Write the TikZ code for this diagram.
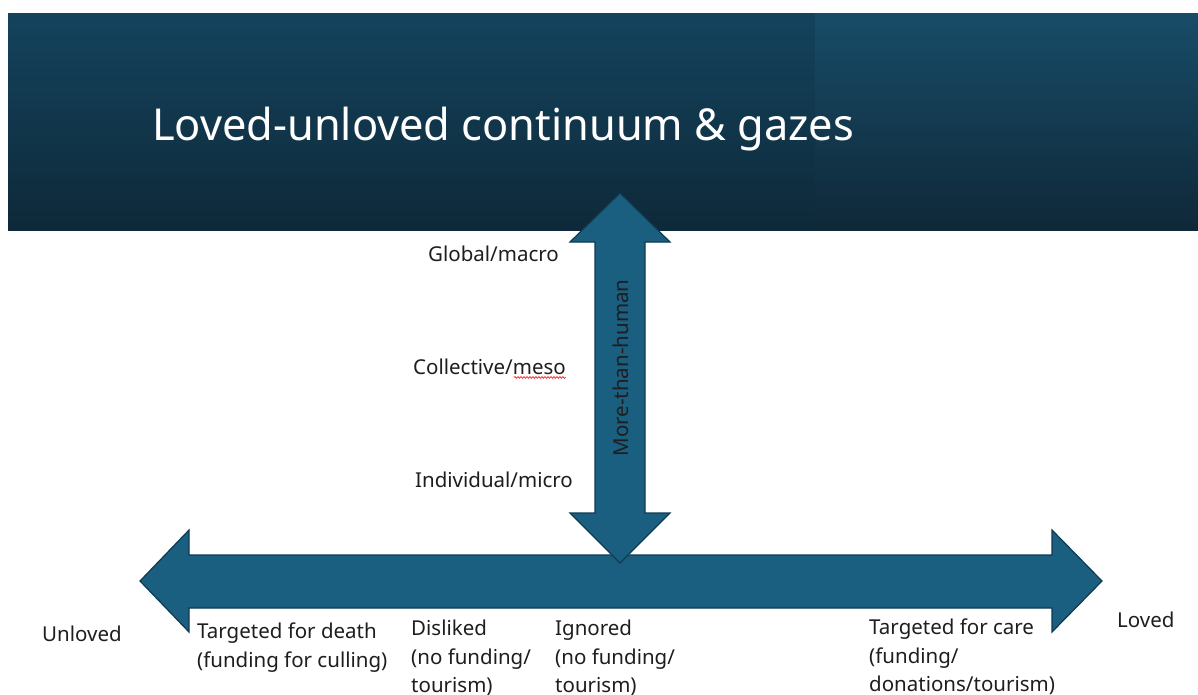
\documentclass[tikz,border=0pt]{standalone}
\usepackage{fontspec}
\usepackage{graphicx}
\setmainfont{Noto Sans}
\usetikzlibrary{decorations.pathmorphing}

\definecolor{bannerLtop}{HTML}{14435D}
\definecolor{bannerLbot}{HTML}{0E2939}
\definecolor{bannerRtop}{HTML}{184C68}
\definecolor{bannerRbot}{HTML}{0F2838}
\definecolor{arrowfill}{HTML}{1A5E80}
\definecolor{arrowline}{HTML}{0E3A52}
\definecolor{textdark}{HTML}{1E1E1E}

\tikzset{
  bigarrow/.style={fill=arrowfill, draw=arrowline, line width=1.2pt, line join=miter},
  lbl/.style={font=\fontsize{20.5}{28.5}\selectfont, text=textdark, inner sep=0pt},
  multilbl/.style={lbl, align=left, anchor=north west},
  spell/.style={draw=red, line width=0.6pt, decorate,
    decoration={snake, amplitude=0.9pt, segment length=3pt}}
}

\begin{document}
\begin{tikzpicture}[x=1pt, y=-1pt]
  \useasboundingbox (0,0) rectangle (1198,694);
  \fill[white] (0,0) rectangle (1198,694);

  % title banner, two shaded panels
  \shade[top color=bannerLtop, bottom color=bannerLbot] (8,13) rectangle (815,230);
  \shade[top color=bannerRtop, bottom color=bannerRbot] (815,13) rectangle (1198,230);
  \node[anchor=base west, inner sep=0pt, text=white,
        font=\fontsize{44}{50}\selectfont] (title) at (152,140)
        {\scalebox{0.985}[1]{Loved-unloved continuum \& gazes}};

  % horizontal double arrow: unloved <-> loved
  \draw[bigarrow] (140,581) -- (189,530) -- (189,555) -- (1052,555) -- (1052,530)
    -- (1102,581) -- (1052,632) -- (1052,608) -- (189,608) -- (189,632) -- cycle;

  % vertical double arrow: scale of the gaze
  \draw[bigarrow] (620,193) -- (670,242) -- (645,242) -- (645,513) -- (670,513)
    -- (620,563) -- (570,513) -- (595,513) -- (595,242) -- (570,242) -- cycle;
  \node[lbl, rotate=90] (mth) at (621,368) {More-than-human};

  % scale labels
  \node[lbl, anchor=base west] (global) at (428,261) {Global/macro};
  \node[lbl, anchor=base west] (collective) at (413,374) {Collective/meso};
  \draw[spell] (collective.south east) ++(-52,3) -- ++(52,0);
  \node[lbl, anchor=base west] (individual) at (415,487) {Individual/micro};

  % continuum labels
  \node[lbl, anchor=base west] (unloved) at (42,641) {Unloved};
  \node[lbl, anchor=base west] (loved) at (1117,627) {Loved};
  \node[multilbl] (death) at (197,623) {Targeted for death\\(funding for culling)};
  \node[multilbl] (disliked) at (411,620) {Disliked\\(no funding/\\tourism)};
  \node[multilbl] (ignored) at (555,620) {Ignored\\(no funding/\\tourism)};
  \node[multilbl] (care) at (869,619) {Targeted for care\\(funding/\\donations/tourism)};
\end{tikzpicture}
\end{document}
